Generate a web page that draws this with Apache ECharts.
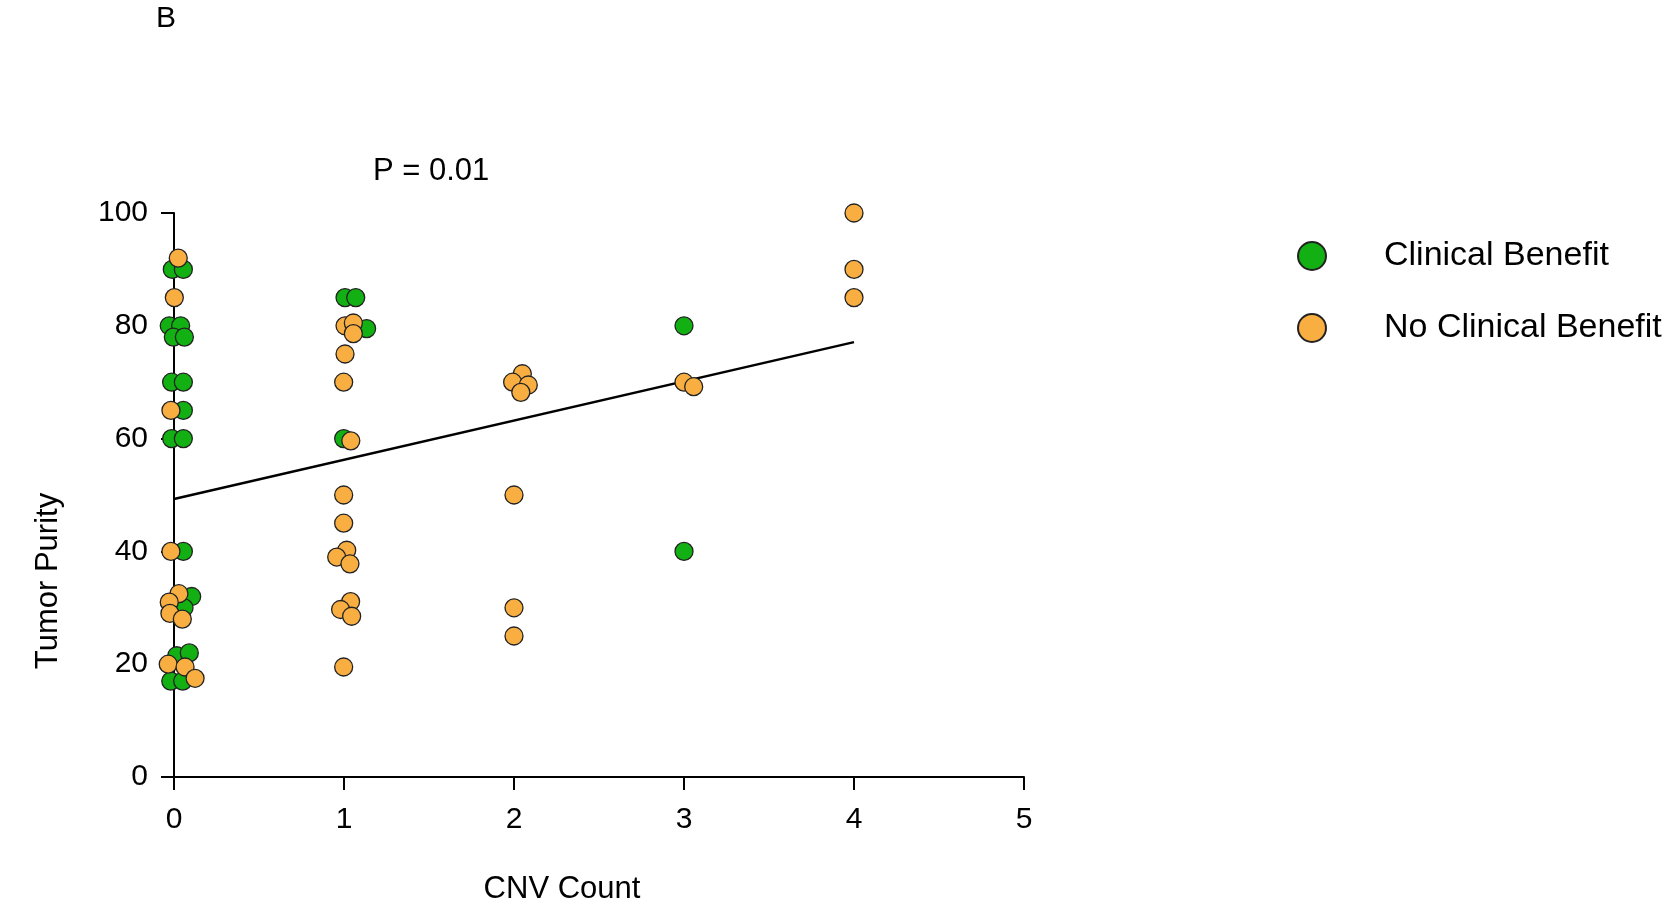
<!DOCTYPE html>
<html>
<head>
<meta charset="utf-8">
<title>Tumor Purity vs CNV Count</title>
<script src="https://cdn.jsdelivr.net/npm/echarts@6/dist/echarts.min.js"></script>
<style>
  html, body { margin: 0; padding: 0; background: #fff; }
  #chart { width: 1663px; height: 913px; }
</style>
</head>
<body>
<div id="chart"></div>
<script>
  // CNV count (jittered as plotted) and tumor purity
  const clinicalBenefit = [
    [-0.01, 90], [0.055, 90], [-0.028, 80], [0.039, 80], [-0.004, 78], [0.061, 78],
    [-0.014, 70], [0.055, 70], [0.055, 65], [-0.014, 60], [0.055, 60], [0.055, 40],
    [0.104, 32], [0.059, 30], [0.016, 21.5], [0.09, 22], [-0.019, 17], [0.051, 17],
    [1.006, 85], [1.069, 85], [1.133, 79.5], [0.998, 60],
    [3.0, 80], [3.0, 40]
  ];
  const noClinicalBenefit = [
    [0.025, 92], [0.002, 85], [-0.018, 65], [-0.018, 40],
    [0.029, 32.5], [-0.028, 31], [-0.024, 29], [0.049, 28],
    [-0.034, 20], [0.065, 19.5], [0.124, 17.5],
    [1.006, 80], [1.055, 80.5], [1.055, 78.6], [1.006, 75], [0.998, 70], [1.04, 59.6],
    [0.998, 50], [0.998, 45], [1.016, 40.2], [0.957, 39], [1.035, 37.8],
    [1.039, 31.1], [0.98, 29.7], [1.045, 28.5], [0.998, 19.5],
    [2.049, 71.5], [1.992, 70], [2.084, 69.5], [2.04, 68.2], [2.0, 50], [2.0, 30], [2.0, 25],
    [3.0, 70], [3.057, 69.2],
    [4.0, 100], [4.0, 90], [4.0, 85]
  ];
  // linear fit drawn from x = 0 to x = 4
  const fitLine = [[0, 49.3], [4, 77.1]];
  const seriesNames = ['Clinical Benefit', 'No Clinical Benefit'];
  const FONT = '"Liberation Sans", Arial, Helvetica, sans-serif';

  const chart = echarts.init(document.getElementById('chart'));
  const option = {
    animation: false,
    backgroundColor: '#ffffff',
    grid: { left: 174, right: 639, top: 213, bottom: 136, containLabel: false },
    xAxis: {
      type: 'value',
      min: 0, max: 5, interval: 1,
      splitLine: { show: false },
      axisLine: { onZero: false, lineStyle: { color: '#000', width: 2 } },
      axisTick: { length: 13, lineStyle: { color: '#000', width: 2 } },
      axisLabel: { color: '#000', fontSize: 30, fontFamily: FONT, margin: 28 }
    },
    yAxis: {
      type: 'value',
      min: 0, max: 100, interval: 20,
      splitLine: { show: false },
      axisLine: { show: true, onZero: false, lineStyle: { color: '#000', width: 2 } },
      axisTick: { show: true, length: 13, lineStyle: { color: '#000', width: 2 } },
      axisLabel: { color: '#000', fontSize: 30, fontFamily: FONT, margin: 26 }
    },
    legend: {
      data: seriesNames,
      orient: 'vertical',
      left: 1292,
      top: 234,
      itemWidth: 28,
      itemHeight: 28,
      itemGap: 38,
      icon: 'circle',
      textStyle: { color: '#000', fontSize: 34, fontFamily: FONT, lineHeight: 28, padding: [0, 0, 0, 53] }
    },
    graphic: [
      { type: 'text', left: 156, top: 4, style: { text: 'B', font: '30px ' + FONT, fill: '#000' } },
      { type: 'text', x: 373, y: 171, style: { text: 'P = 0.01', font: '31px ' + FONT, fill: '#000', textVerticalAlign: 'middle' } },
      { type: 'text', x: 562, y: 889, style: { text: 'CNV Count', font: '31px ' + FONT, fill: '#000', textAlign: 'center', textVerticalAlign: 'middle' } },
      { type: 'text', x: 48, y: 581, rotation: Math.PI / 2, style: { text: 'Tumor Purity', font: '31px ' + FONT, fill: '#000', textAlign: 'center', textVerticalAlign: 'middle' } }
    ],
    series: [
      {
        name: 'fit',
        type: 'line',
        data: fitLine,
        symbol: 'none',
        lineStyle: { color: '#000', width: 2.5 },
        z: 1
      },
      {
        name: seriesNames[0],
        type: 'scatter',
        data: clinicalBenefit,
        symbolSize: 18,
        clip: false,
        itemStyle: { color: '#12B012', borderColor: '#222', borderWidth: 1.3, opacity: 1 },
        z: 3
      },
      {
        name: seriesNames[1],
        type: 'scatter',
        data: noClinicalBenefit,
        symbolSize: 18,
        clip: false,
        itemStyle: { color: '#F9AE42', borderColor: '#222', borderWidth: 1.3, opacity: 1 },
        z: 3
      }
    ]
  };
  chart.setOption(option);
</script>
</body>
</html>
